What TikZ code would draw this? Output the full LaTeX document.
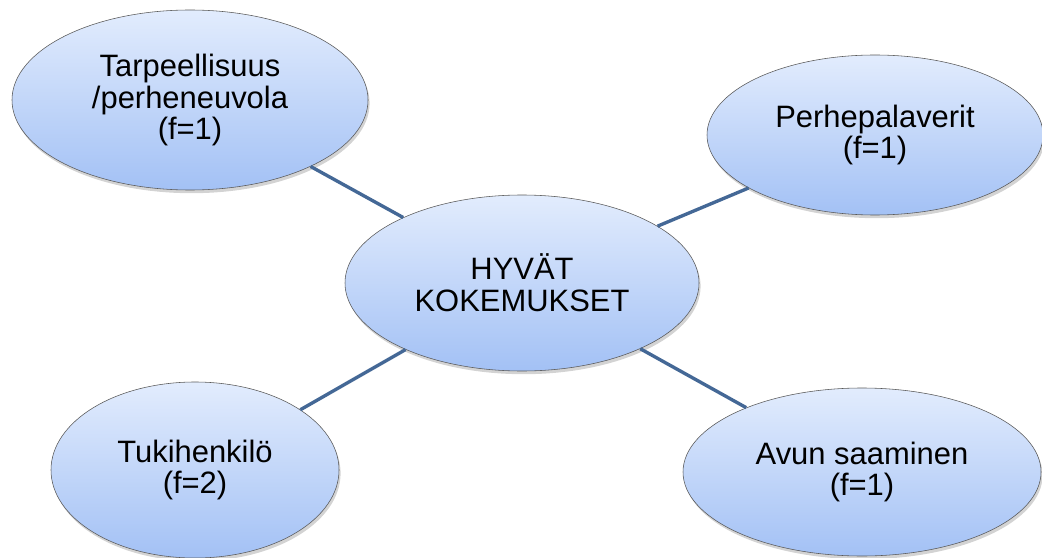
\documentclass[tikz,border=0pt]{standalone}
\usepackage{fontspec}
\setmainfont{Liberation Sans}
\usetikzlibrary{shapes.geometric,shadows}

\definecolor{ideatop}{RGB}{226,236,253}
\definecolor{ideabottom}{RGB}{163,193,245}
\definecolor{linkblue}{RGB}{68,104,150}

\tikzset{
  idea/.style={ellipse, draw=gray!70!black, line width=0.4pt, top color=ideatop,
    bottom color=ideabottom, drop shadow={opacity=0.35, shadow xshift=0.04cm, shadow yshift=-0.08cm},
    inner sep=0pt, align=center, font=\fontsize{22}{22.5}\selectfont},
  link/.style={draw=linkblue, line width=2.4pt}
}

\begin{document}
\begin{tikzpicture}
  \useasboundingbox (0,0) rectangle (26.05,-13.95);
  \node[idea, minimum width=8.9cm, minimum height=4.5cm] (tarve) at (4.75,-2.50) {Tarpeellisuus\\/perheneuvola\\(f=1)};
  \node[idea, minimum width=8.4cm, minimum height=4.0cm] (palaverit) at (21.875,-3.375) {Perhepalaverit\\(f=1)};
  \node[idea, minimum width=8.85cm, minimum height=4.4cm] (hyvat) at (13.05,-7.075) {HYVÄT\\KOKEMUKSET};
  \node[idea, minimum width=7.2cm, minimum height=4.4cm] (tuki) at (4.875,-11.75) {Tukihenkilö\\(f=2)};
  \node[idea, minimum width=8.95cm, minimum height=4.2cm] (apu) at (21.55,-11.80) {Avun saaminen\\(f=1)};
  % Draw the links
  \draw[link] (hyvat) -- (tarve);
  \draw[link] (hyvat) -- (palaverit);
  \draw[link] (hyvat) -- (tuki);
  \draw[link] (hyvat) -- (apu);
\end{tikzpicture}
\end{document}
